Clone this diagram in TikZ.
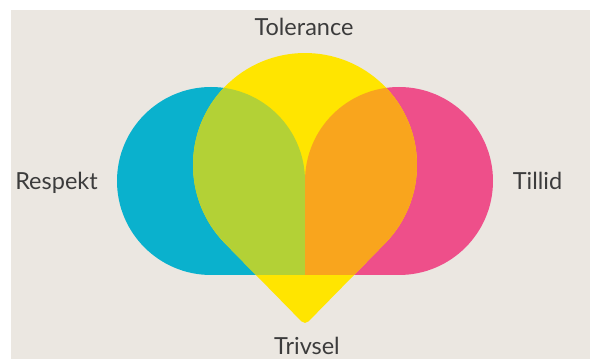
\documentclass[tikz,border=0pt]{standalone}
\usepackage{fontspec}
\setmainfont{Lato}
\usetikzlibrary{calc}
\definecolor{bgc}{HTML}{EBE7E1}
\definecolor{cyanc}{HTML}{0AB1CD}
\definecolor{pinkc}{HTML}{EE4F8A}
\definecolor{yellowc}{HTML}{FFE500}
\definecolor{greenc}{HTML}{B3D136}
\definecolor{orangec}{HTML}{F9A51D}
\definecolor{txtc}{HTML}{3C3C3C}
\tikzset{
  lbl/.style={anchor=base, inner sep=0pt, text=txtc, font=\fontsize{23.5}{28}\selectfont}
}
\newcommand{\cyanpath}{(211,84) -- (305,84) -- (305,178) arc[start angle=0, end angle=270, radius=94] -- cycle}
\newcommand{\pinkpath}{(305,84) -- (399,84) arc[start angle=-90, end angle=180, radius=94] -- (305,84) -- cycle}
\newcommand{\yellowpath}{($(305,194)+(224.43:112)$) [rounded corners=5] -- (305,34) [sharp corners] -- ($(305,194)+(-44.43:112)$) arc[start angle=-44.43, end angle=224.43, radius=112] -- cycle}
\begin{document}
\begin{tikzpicture}[x=1pt,y=1pt]
\useasboundingbox (0,0) rectangle (590,359);
\fill[white] (0,0) rectangle (590,359);
\fill[bgc] (11,0) rectangle (590,349);
\fill[cyanc] \cyanpath;
\fill[pinkc] \pinkpath;
\fill[yellowc] \yellowpath;
\begin{scope}
  \clip \yellowpath;
  \fill[greenc] \cyanpath;
  \fill[orangec] \pinkpath;
\end{scope}
\node[lbl] (tol) at (304,323) {Tolerance};
\node[lbl] (res) at (56.5,169.5) {Respekt};
\node[lbl] (til) at (537.5,169) {Tillid};
\node[lbl] (tri) at (307,4) {Trivsel};
\end{tikzpicture}
\end{document}
